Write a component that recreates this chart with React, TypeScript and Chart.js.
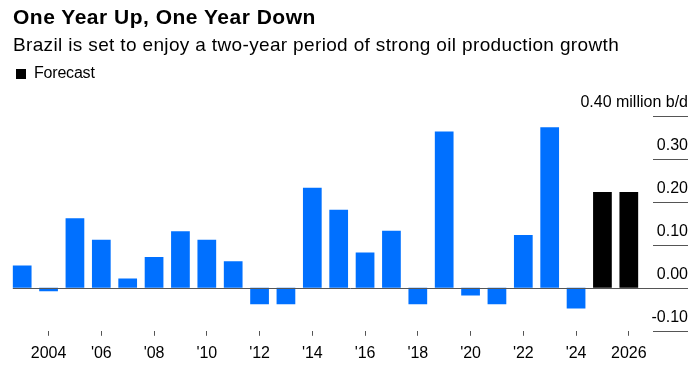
import React, { useEffect, useRef } from 'react';
import { Chart, registerables } from 'chart.js';

Chart.register(...registerables);

const years = ['2003', '2004', '2005', '2006', '2007', '2008', '2009', '2010', '2011', '2012', '2013', '2014', '2015', '2016', '2017', '2018', '2019', '2020', '2021', '2022', '2023', '2024', '2025', '2026'];
const values = [0.052, -0.008, 0.162, 0.112, 0.022, 0.072, 0.132, 0.112, 0.062, -0.038, -0.038, 0.233, 0.182, 0.082, 0.133, -0.038, 0.364, -0.018, -0.038, 0.123, 0.374, -0.048, 0.223, 0.223];
const forecastYears = ['2025', '2026'];
const xTickLabels = ['', '2004', '', "'06", '', "'08", '', "'10", '', "'12", '', "'14", '', "'16", '', "'18", '', "'20", '', "'22", '', "'24", '', '2026'];
const yTickValues = [0.4, 0.3, 0.2, 0.1, 0, -0.1];
const yTickLabels = ['0.40 million b/d', '0.30', '0.20', '0.10', '0.00', '-0.10'];

const FONT = '"Liberation Sans", Arial, Helvetica, sans-serif';
const BLUE = '#0070ff';
const GRID = '#555555';

const axisPlugin = {
  id: 'bbgAxis',
  afterDatasetsDraw(chart: any) {
    const ctx = chart.ctx;
    const ys = chart.scales.y;
    const meta = chart.getDatasetMeta(0);
    const first = meta.data[0] as any;
    const x0 = first.x - first.width / 2;
    const right = 688;
    const gridLeft = 653;
    ctx.save();
    ctx.lineWidth = 1;
    ctx.strokeStyle = GRID;
    ctx.font = `16px ${FONT}`;
    ctx.fillStyle = '#000';
    ctx.textAlign = 'right';
    ctx.textBaseline = 'middle';
    yTickValues.forEach((v, i) => {
      const y = Math.round(ys.getPixelForValue(v)) + 0.5;
      ctx.beginPath();
      ctx.moveTo(v === 0 ? x0 : gridLeft, y);
      ctx.lineTo(right, y);
      ctx.stroke();
      ctx.fillText(yTickLabels[i], right, y - 14);
    });
    ctx.restore();
  },
};

function BarChart() {
  const ref = useRef<HTMLCanvasElement | null>(null);
  useEffect(() => {
    if (!ref.current) return;
    const chart = new Chart(ref.current, {
      type: 'bar',
      data: {
        labels: years,
        datasets: [
          {
            data: values,
            backgroundColor: years.map((y) => (forecastYears.includes(y) ? '#000000' : BLUE)),
            barPercentage: 0.71,
            categoryPercentage: 1,
            borderWidth: 0,
          },
        ],
      },
      options: {
        animation: false,
        responsive: false,
        maintainAspectRatio: false,
        layout: { padding: { left: 9, right: 53, top: 116, bottom: 0 } },
        scales: {
          x: {
            grid: {
              display: true,
              offset: false,
              drawOnChartArea: false,
              drawTicks: true,
              tickLength: 5,
              tickColor: (c: any) => (xTickLabels[c.index] ? GRID : 'rgba(0,0,0,0)'),
            },
            border: { display: false },
            ticks: {
              autoSkip: false,
              maxRotation: 0,
              minRotation: 0,
              padding: 8,
              color: '#000',
              font: { family: FONT, size: 16 },
              callback: (_v: any, i: number) => xTickLabels[i],
            },
          },
          y: { display: false, min: -0.1, max: 0.4 },
        },
        plugins: { legend: { display: false }, tooltip: { enabled: false } },
      },
      plugins: [axisPlugin],
    });
    return () => chart.destroy();
  }, []);
  return <canvas ref={ref} width={695} height={371} style={{ position: 'absolute', left: 0, top: 0, width: 695, height: 371 }} />;
}

export default function App() {
  return (
    <div style={{ position: 'absolute', left: 0, top: 0, width: 695, height: 371, background: '#fff', overflow: 'hidden', fontFamily: FONT, color: '#000' }}>
      <BarChart />
      <div style={{ position: 'absolute', left: 13, top: 6, fontSize: 21, lineHeight: '21px', fontWeight: 700, letterSpacing: 0.5, whiteSpace: 'nowrap' }}>
        One Year Up, One Year Down
      </div>
      <div style={{ position: 'absolute', left: 13, top: 35, fontSize: 19, lineHeight: '19px', letterSpacing: 0.35, whiteSpace: 'nowrap' }}>
        Brazil is set to enjoy a two-year period of strong oil production growth
      </div>
      <div style={{ position: 'absolute', left: 16, top: 69, width: 10, height: 10, background: '#000' }} />
      <div style={{ position: 'absolute', left: 34, top: 65, fontSize: 16, lineHeight: '16px', letterSpacing: -0.2, whiteSpace: 'nowrap' }}>
        Forecast
      </div>
    </div>
  );
}
